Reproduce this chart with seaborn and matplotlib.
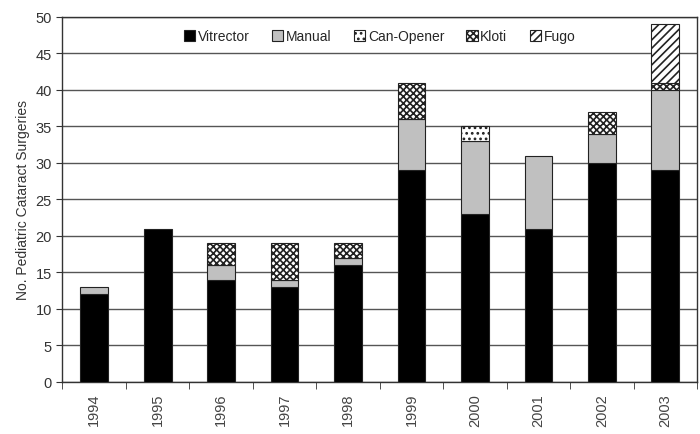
import numpy as np
import pandas as pd
import matplotlib
matplotlib.use("Agg")
import matplotlib.pyplot as plt
from matplotlib.patches import Patch
import seaborn as sns

years = ["1994", "1995", "1996", "1997", "1998", "1999", "2000", "2001", "2002", "2003"]
vitrector = [12, 21, 14, 13, 16, 29, 23, 21, 30, 29]
manual = [1, 0, 2, 1, 1, 7, 10, 10, 4, 11]
can_opener = [0, 0, 0, 0, 0, 0, 2, 0, 0, 0]
kloti = [0, 0, 3, 5, 2, 5, 0, 0, 3, 1]
fugo = [0, 0, 0, 0, 0, 0, 0, 0, 0, 8]

series = [
    ("Vitrector", vitrector, "black", ""),
    ("Manual", manual, "#c0c0c0", ""),
    ("Can-Opener", can_opener, "white", "..."),
    ("Kloti", kloti, "white", "xxxxx"),
    ("Fugo", fugo, "white", "////"),
]

sns.set_style("white")
plt.rcParams["font.family"] = ["Liberation Sans", "DejaVu Sans"]
plt.rcParams["hatch.linewidth"] = 1.2

fig = plt.figure(figsize=(7, 4.35), dpi=100)
ax = fig.add_axes([0.089, 0.12, 0.907, 0.839])

bottom = np.zeros(len(years))
handles = []
for name, vals, color, hatch in series:
    vals = np.array(vals, dtype=float)
    mask = vals > 0
    df = pd.DataFrame({"year": np.array(years)[mask], "n": vals[mask]})
    sns.barplot(data=df, x="year", y="n", order=years, color=color,
                bottom=bottom[mask], width=0.44, edgecolor="#222222",
                linewidth=0.8, hatch=hatch, saturation=1, ax=ax, zorder=3)
    bottom += vals
    handles.append(Patch(facecolor=color, edgecolor="#222222", hatch=hatch,
                         linewidth=0.8, label=name))

ax.set_ylim(0, 50)
ax.set_xlim(-0.5, len(years) - 0.5)
ax.set_yticks(range(0, 51, 5))
ax.yaxis.grid(True, color="#555555", linewidth=1, zorder=0)
ax.set_axisbelow(True)
ax.set_xlabel("")
ax.set_ylabel("No. Pediatric Cataract Surgeries", fontsize=10, color="#333333")

ax.set_xticks(range(len(years)))
ax.set_xticklabels(years, rotation=90, fontsize=10.5, color="#444444")
ax.tick_params(axis="x", which="major", length=0, pad=8)
ax.set_xticks(np.arange(-0.5, len(years)), minor=True)
ax.tick_params(axis="x", which="minor", length=5, direction="out",
               color="#333333", bottom=True)
ax.tick_params(axis="y", length=4, direction="out", color="#333333",
               labelsize=10.5, labelcolor="#333333", left=True)
for s in ax.spines.values():
    s.set_color("#333333")
    s.set_linewidth(1)

ax.legend(handles=handles, loc="upper center", bbox_to_anchor=(0.5, 1.0),
          ncol=5, frameon=False, fontsize=10, handlelength=0.8,
          handleheight=0.8, handletextpad=0.2, columnspacing=1.6)

fig.savefig("out.png", dpi=100)
